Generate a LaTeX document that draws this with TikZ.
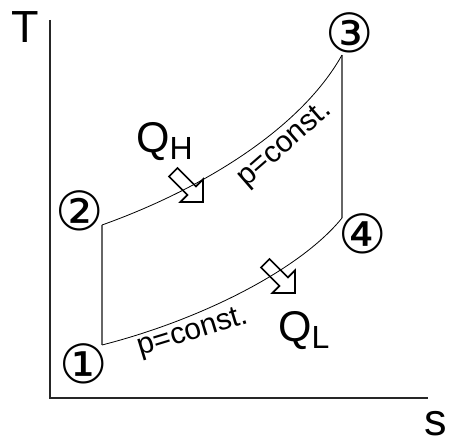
\documentclass[tikz,border=0pt]{standalone}
\usepackage{fontspec}
\setmainfont{Liberation Sans}
\newfontfamily\circfont{DejaVu Sans}
\tikzset{
  axisline/.style={line width=1.2pt, draw=black!85},
  sideline/.style={line width=1.2pt, draw=black!60},
  isobar/.style={line width=0.8pt, draw=black},
  state/.style={font=\circfont\fontsize{54}{54}\selectfont, inner sep=0pt},
  axislabel/.style={font=\fontsize{45}{45}\selectfont, inner sep=0pt},
  heatlabel/.style={font=\fontsize{43}{43}\selectfont, inner sep=0pt},
  plabel/.style={font=\fontsize{30}{30}\selectfont, inner sep=0pt},
  hollowarrow/.style={line width=1.6pt, draw=black, line join=miter}
}
\newcommand{\heatsub}[1]{\raisebox{-7pt}{\fontsize{32}{32}\selectfont #1}}

\begin{document}
\begin{tikzpicture}[x=1pt, y=-1pt]
  \useasboundingbox (0,0) rectangle (451,441);
  % axes
  \coordinate (origin) at (50,398);
  \coordinate (tEnd) at (50,20);
  \coordinate (sEnd) at (428,398);
  \draw[axisline] (tEnd) -- (origin) -- (sEnd);
  \node[axislabel, anchor=base] (tLabel) at (25,43) {T};
  \node[axislabel, anchor=base] (sLabel) at (436,436) {s};

  % cycle corners
  \coordinate (p1) at (102,345);
  \coordinate (p2) at (102,225);
  \coordinate (p3) at (342,55);
  \coordinate (p4) at (342,218);
  \draw[sideline] (p1) -- (p2);
  \draw[sideline] (p3) -- (p4);
  \draw[isobar] (p2) .. controls (200,190) and (300,130) .. (p3);
  \draw[isobar] (p1) .. controls (200,320) and (300,270) .. (p4);

  \node[state] (n1) at (84,364) {①};
  \node[state] (n2) at (80,211) {②};
  \node[state] (n3) at (350,33) {③};
  \node[state] (n4) at (363,234) {④};

  % heat flows
  \coordinate (qhTip) at (203,202);
  \coordinate (qlTip) at (295,293);
  \draw[hollowarrow, shift={(qhTip)}, rotate=-45]
    (0,0) -- (-16,-16) -- (-16,-6) -- (-42,-6) -- (-42,6) -- (-16,6) -- (-16,16) -- cycle;
  \draw[hollowarrow, shift={(qlTip)}, rotate=-45]
    (0,0) -- (-16,-16) -- (-16,-6) -- (-42,-6) -- (-42,6) -- (-16,6) -- (-16,16) -- cycle;
  \node[heatlabel, anchor=base west] (qh) at (136,153) {Q\heatsub{H}};
  \node[heatlabel, anchor=base west] (ql) at (278,342) {Q\heatsub{L}};

  \node[plabel, rotate=41] (pHigh) at (285,145) {p=const.};
  \node[plabel, rotate=17] (pLow) at (193,333) {p=const.};
\end{tikzpicture}
\end{document}
